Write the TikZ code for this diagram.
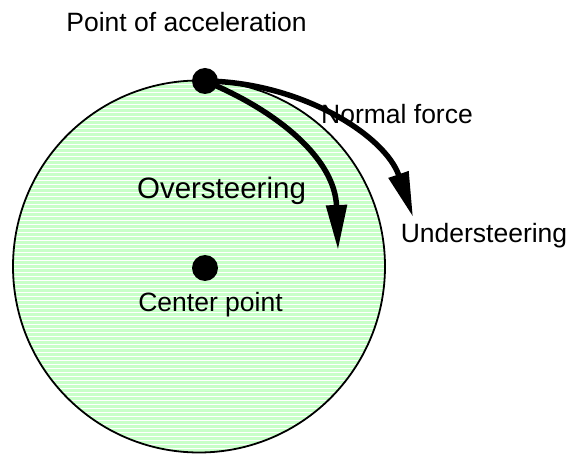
\documentclass[tikz,border=0pt]{standalone}
\usepackage{fontspec}
\setmainfont{Liberation Sans}
\usetikzlibrary{arrows.meta}
\definecolor{wheelgreen}{RGB}{200,255,200}

\begin{document}
\begin{tikzpicture}[
  x=1pt, y=-1pt,
  lbl/.style={font=\fontsize{26.5}{32}\selectfont, anchor=base, inner sep=0pt},
  big/.style={font=\fontsize{29.5}{35}\selectfont, anchor=base, inner sep=0pt},
  dot/.style={circle, fill=black, minimum size=26pt, inner sep=0pt},
  force/.style={line width=5.5pt, -{Triangle[length=45pt, width=20pt]}}
]
\useasboundingbox (0,0) rectangle (568,454);

% wheel with striped fill
\begin{scope}
  \clip (199,266.5) circle [radius=186pt];
  \fill[wheelgreen] (0,70) rectangle (400,460);
  \foreach \y in {80,84,...,456} \draw[white, line width=0.9pt] (0,\y) -- (400,\y);
\end{scope}
\draw[line width=1.8pt] (199,266.5) circle [radius=186pt];

\node[dot] (accel) at (205,81) {};
\node[dot] (center) at (205,268) {};
\coordinate (overtip) at (338,250);
\coordinate (undertip) at (413,217);

\draw[force] (accel.center) .. controls (280,112) and (335,160) .. (overtip);
\draw[force] (accel.center) .. controls (300,82) and (385,135) .. (undertip);

\node[lbl] (acclbl) at (186.5,32) {Point of acceleration};
\node[lbl] (normlbl) at (397,124) {Normal force};
\node[big] (overlbl) at (221.5,199) {Oversteering};
\node[lbl] (underlbl) at (484,243) {Understeering};
\node[lbl] (centlbl) at (210.5,312) {Center point};
\end{tikzpicture}
\end{document}
